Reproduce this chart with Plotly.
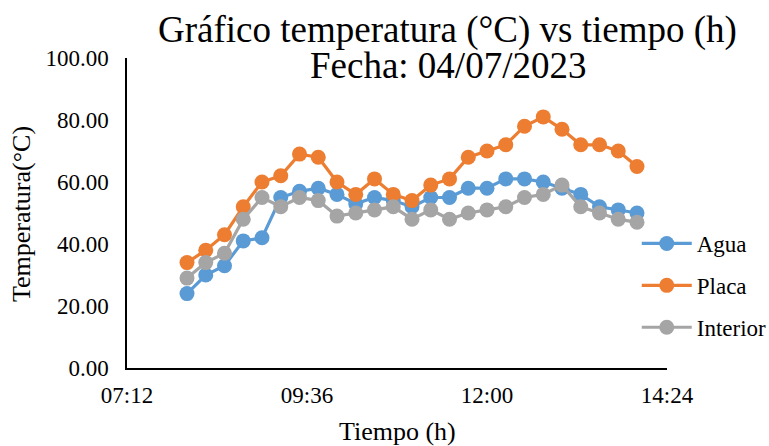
import plotly.graph_objects as go

horas = ["08:00", "08:15", "08:30", "08:45", "09:00", "09:15", "09:30", "09:45",
         "10:00", "10:15", "10:30", "10:45", "11:00", "11:15", "11:30", "11:45",
         "12:00", "12:15", "12:30", "12:45", "13:00", "13:15", "13:30", "13:45", "14:00"]
agua = [24, 30, 33, 41, 42, 55, 57, 58, 56, 53, 55, 54, 52, 55, 55, 58,
        58, 61, 61, 60, 58, 56, 52, 51, 50]
placa = [34, 38, 43, 52, 60, 62, 69, 68, 60, 56, 61, 56, 54, 59, 61, 68,
         70, 72, 78, 81, 77, 72, 72, 70, 65]
interior = [29, 34, 37, 48, 55, 52, 55, 54, 49, 50, 51, 52, 48, 51, 48, 50,
            51, 52, 55, 56, 59, 52, 50, 48, 47]
tick_labels = ["07:12", "09:36", "12:00", "14:24"]
fecha = "2023-07-04"

x = [f"{fecha} {h}" for h in horas]
tickvals = [f"{fecha} {t}" for t in tick_labels]

series = [("Agua", agua, "#5B9BD5"), ("Placa", placa, "#ED7D31"), ("Interior", interior, "#A5A5A5")]

fig = go.Figure()
for name, vals, col in series:
    fig.add_trace(go.Scatter(
        x=x, y=vals, name=name, mode="lines+markers",
        line=dict(color=col, width=3.2),
        marker=dict(color=col, size=15),
        legendgroup=name,
    ))

FONT = "Liberation Serif, Times New Roman, serif"
L, R, T, B = 127, 102, 58, 78
W, H = 769, 446
ph = H - T - B
pw = W - L - R

def py(p):
    return (H - B - p) / ph

def px(p):
    return (p - L) / pw

fig.update_layout(
    width=W, height=H,
    margin=dict(l=L, r=R, t=T, b=B, autoexpand=False),
    paper_bgcolor="white", plot_bgcolor="white",
    font=dict(family=FONT, size=23, color="#000000"),
    showlegend=True,
    legend=dict(x=0.944, y=py(222), xanchor="left", yanchor="top",
                font=dict(family=FONT, size=23, color="#000000"),
                tracegroupgap=9, itemwidth=50, bgcolor="rgba(0,0,0,0)"),
    xaxis=dict(
        type="date", automargin=False,
        range=[tickvals[0], tickvals[-1]],
        tickvals=tickvals, ticktext=tick_labels,
        showgrid=False, zeroline=False,
        showline=True, linecolor="#000000", linewidth=1.5,
        ticks="", ticklabelstandoff=6,
        tickfont=dict(family=FONT, size=23, color="#000000"),
    ),
    yaxis=dict(
        range=[0, 100], dtick=20, tickformat=".2f", automargin=False,
        showgrid=False, zeroline=False,
        showline=True, linecolor="#000000", linewidth=1.5,
        ticks="", ticklabelstandoff=12,
        tickfont=dict(family=FONT, size=23, color="#000000"),
    ),
    annotations=[
        dict(text="Gráfico temperatura (°C) vs tiempo (h)", xref="paper", yref="paper",
             x=px(447), y=py(30), xanchor="center", yanchor="middle",
             showarrow=False, font=dict(family=FONT, size=37, color="#000000")),
        dict(text="Fecha: 04/07/2023", xref="paper", yref="paper",
             x=px(448), y=py(66), xanchor="center", yanchor="middle",
             showarrow=False, font=dict(family=FONT, size=37, color="#000000")),
        dict(text="Tiempo (h)", xref="paper", yref="paper",
             x=px(397), y=py(431), xanchor="center", yanchor="middle",
             showarrow=False, font=dict(family=FONT, size=26, color="#000000")),
        dict(text="Temperatura(°C)", xref="paper", yref="paper", textangle=-90,
             x=px(22), y=py(214), xanchor="center", yanchor="middle",
             showarrow=False, font=dict(family=FONT, size=26, color="#000000")),
    ],
)

fig.write_html("out.html")
